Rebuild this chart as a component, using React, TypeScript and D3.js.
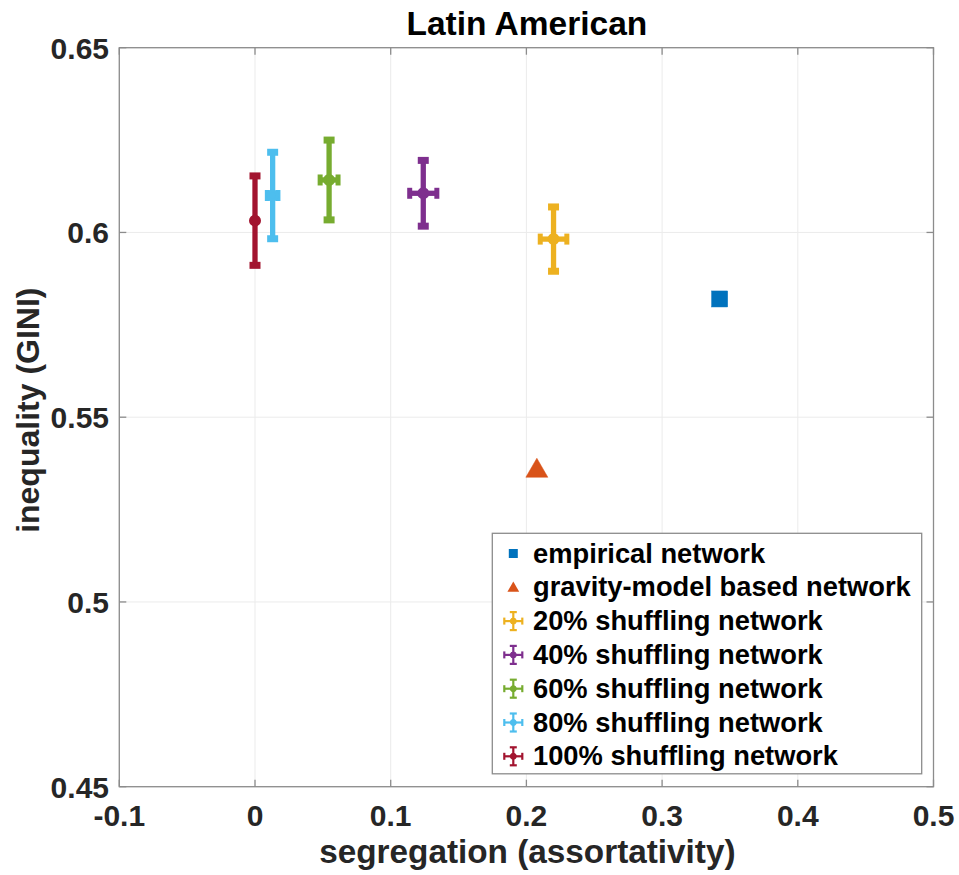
import React from "react";
import * as d3 from "d3";

const TITLE = "Latin American";
const X_LABEL = "segregation (assortativity)";
const Y_LABEL = "inequality (GINI)";
const X_TICKS = [-0.1, 0, 0.1, 0.2, 0.3, 0.4, 0.5];
const Y_TICKS = [0.45, 0.5, 0.55, 0.6, 0.65];

// single-point series
const empiricalPoint = { x: 0.3424, y: 0.582 };
const gravityPoint = { x: 0.2077, y: 0.536 };

// shuffling series with error bars
const shuffleNames = [
  "20% shuffling network",
  "40% shuffling network",
  "60% shuffling network",
  "80% shuffling network",
  "100% shuffling network",
];
const shuffleX = [0.22, 0.124, 0.0546, 0.013, 0.0];
const shuffleY = [0.5982, 0.6106, 0.6142, 0.61, 0.6032];
const shuffleXErr = [0.0098, 0.01, 0.0066, 0.0039, 0.0];
const shuffleYErr = [0.0087, 0.0089, 0.0108, 0.0117, 0.0121];
const shuffleColors = ["#EDB120", "#7E2F8E", "#77AC30", "#4DBEEE", "#A2142F"];

const legendNames = ["empirical network", "gravity-model based network", ...shuffleNames];

const FONT = "'Liberation Sans', Arial, Helvetica, sans-serif";

const fmtTick = (t: number) => String(t);

export default function App() {
  const W = 959;
  const H = 875;
  const left = 119.3, right = 933.5, top = 47.7, bottom = 786.7;
  const x = d3.scaleLinear().domain([-0.1, 0.5]).range([left, right]);
  const y = d3.scaleLinear().domain([0.45, 0.65]).range([bottom, top]);

  const capHalf = 5.5;
  const lw = 5.3;
  const triSize = 22;
  const triPath = d3.symbol().type(d3.symbolTriangle).size((triSize * triSize * Math.sqrt(3)) / 4)();

  const legX = 492.3, legY = 533.3, legW = 429.4, legH = 240.5;
  const rowY0 = 553.5, rowDy = 33.8;
  const iconX = 513.3, textX = 533;

  return (
    <div style={{ position: "absolute", left: 0, top: 0 }}>
      <svg width={W} height={H} style={{ display: "block", background: "#fff" }}>
        <rect x={0} y={0} width={W} height={H} fill="#fff" />
        {/* grid */}
        {X_TICKS.map((t) => (
          <line key={"gx" + t} x1={x(t)} x2={x(t)} y1={top} y2={bottom} stroke="#ebebeb" strokeWidth={1} />
        ))}
        {Y_TICKS.map((t) => (
          <line key={"gy" + t} x1={left} x2={right} y1={y(t)} y2={y(t)} stroke="#ebebeb" strokeWidth={1} />
        ))}

        {/* shuffling error bars */}
        {shuffleX.map((sx, i) => {
          const cx = x(sx);
          const cy = y(shuffleY[i]);
          const yt = y(shuffleY[i] + shuffleYErr[i]);
          const yb = y(shuffleY[i] - shuffleYErr[i]);
          const xl = x(sx - shuffleXErr[i]);
          const xr = x(sx + shuffleXErr[i]);
          const c = shuffleColors[i];
          return (
            <g key={"s" + i} stroke={c} strokeWidth={lw} fill={c}>
              <line x1={cx} x2={cx} y1={yt} y2={yb} />
              <line x1={cx - capHalf} x2={cx + capHalf} y1={yt} y2={yt} strokeWidth={7} />
              <line x1={cx - capHalf} x2={cx + capHalf} y1={yb} y2={yb} strokeWidth={7} />
              {shuffleXErr[i] > 0 && (
                <>
                  <line x1={xl} x2={xr} y1={cy} y2={cy} />
                  <line x1={xl} x2={xl} y1={cy - capHalf} y2={cy + capHalf} strokeWidth={5} />
                  <line x1={xr} x2={xr} y1={cy - capHalf} y2={cy + capHalf} strokeWidth={5} />
                </>
              )}
              <circle cx={cx} cy={cy} r={4.5} strokeWidth={3} />
            </g>
          );
        })}

        {/* empirical square */}
        <rect
          x={x(empiricalPoint.x) - 8}
          y={y(empiricalPoint.y) - 8}
          width={16}
          height={16}
          fill="#0072BD"
          stroke="#0072BD"
          strokeWidth={0.5}
        />
        {/* gravity triangle */}
        <path
          d={triPath || ""}
          transform={`translate(${x(gravityPoint.x)},${y(gravityPoint.y) + 2})`}
          fill="#D95319"
          stroke="#D95319"
          strokeWidth={0.5}
        />

        {/* axes box */}
        <rect x={left} y={top} width={right - left} height={bottom - top} fill="none" stroke="#8c8c8c" strokeWidth={1.3} />
        {X_TICKS.map((t) => (
          <g key={"tx" + t} stroke="#8c8c8c" strokeWidth={1.3}>
            <line x1={x(t)} x2={x(t)} y1={bottom} y2={bottom - 7} />
            <line x1={x(t)} x2={x(t)} y1={top} y2={top + 7} />
          </g>
        ))}
        {Y_TICKS.map((t) => (
          <g key={"ty" + t} stroke="#8c8c8c" strokeWidth={1.3}>
            <line x1={left} x2={left + 7} y1={y(t)} y2={y(t)} />
            <line x1={right} x2={right - 7} y1={y(t)} y2={y(t)} />
          </g>
        ))}

        {/* tick labels */}
        {X_TICKS.map((t) => (
          <text
            key={"lx" + t}
            x={x(t)}
            y={825.5}
            textAnchor="middle"
            fontFamily={FONT}
            fontWeight="bold"
            fontSize={30}
            fill="#262626"
          >
            {fmtTick(t)}
          </text>
        ))}
        {Y_TICKS.map((t) => (
          <text
            key={"ly" + t}
            x={109}
            y={y(t) + 11}
            textAnchor="end"
            fontFamily={FONT}
            fontWeight="bold"
            fontSize={30}
            fill="#262626"
          >
            {fmtTick(t)}
          </text>
        ))}

        {/* axis labels */}
        <text x={(left + right) / 2 + 1} y={863} textAnchor="middle" fontFamily={FONT} fontWeight="bold" fontSize={33.3} fill="#262626">
          {X_LABEL}
        </text>
        <text
          transform={`translate(39,${(top + bottom) / 2 - 7}) rotate(-90)`}
          textAnchor="middle"
          fontFamily={FONT}
          fontWeight="bold"
          fontSize={32}
          fill="#262626"
        >
          {Y_LABEL}
        </text>
        <text x={(left + right) / 2 + 0.5} y={35} textAnchor="middle" fontFamily={FONT} fontWeight="bold" fontSize={33.5} fill="#000">
          {TITLE}
        </text>

        {/* legend */}
        <rect x={legX} y={legY} width={legW} height={legH} fill="#fff" stroke="#8c8c8c" strokeWidth={1.3} />
        {legendNames.map((name, i) => {
          const cy = rowY0 + i * rowDy;
          let icon: React.ReactNode = null;
          if (i === 0) {
            icon = <rect x={iconX - 4.5} y={cy - 4.5} width={9} height={9} fill="#0072BD" />;
          } else if (i === 1) {
            const p = d3.symbol().type(d3.symbolTriangle).size(60)();
            icon = <path d={p || ""} transform={`translate(${iconX},${cy + 1})`} fill="#D95319" />;
          } else {
            const c = shuffleColors[i - 2];
            const h = 9;
            icon = (
              <g stroke={c} strokeWidth={2.2} fill={c}>
                <line x1={iconX - h} x2={iconX + h} y1={cy} y2={cy} />
                <line x1={iconX} x2={iconX} y1={cy - h} y2={cy + h} />
                <line x1={iconX - h} x2={iconX - h} y1={cy - 3.5} y2={cy + 3.5} />
                <line x1={iconX + h} x2={iconX + h} y1={cy - 3.5} y2={cy + 3.5} />
                <line x1={iconX - 3.5} x2={iconX + 3.5} y1={cy - h} y2={cy - h} />
                <line x1={iconX - 3.5} x2={iconX + 3.5} y1={cy + h} y2={cy + h} />
                <circle cx={iconX} cy={cy} r={3} strokeWidth={1} />
              </g>
            );
          }
          return (
            <g key={"leg" + i}>
              {icon}
              <text x={textX} y={cy + 9} fontFamily={FONT} fontWeight="bold" fontSize={27.3} fill="#000">
                {name}
              </text>
            </g>
          );
        })}
      </svg>
    </div>
  );
}
